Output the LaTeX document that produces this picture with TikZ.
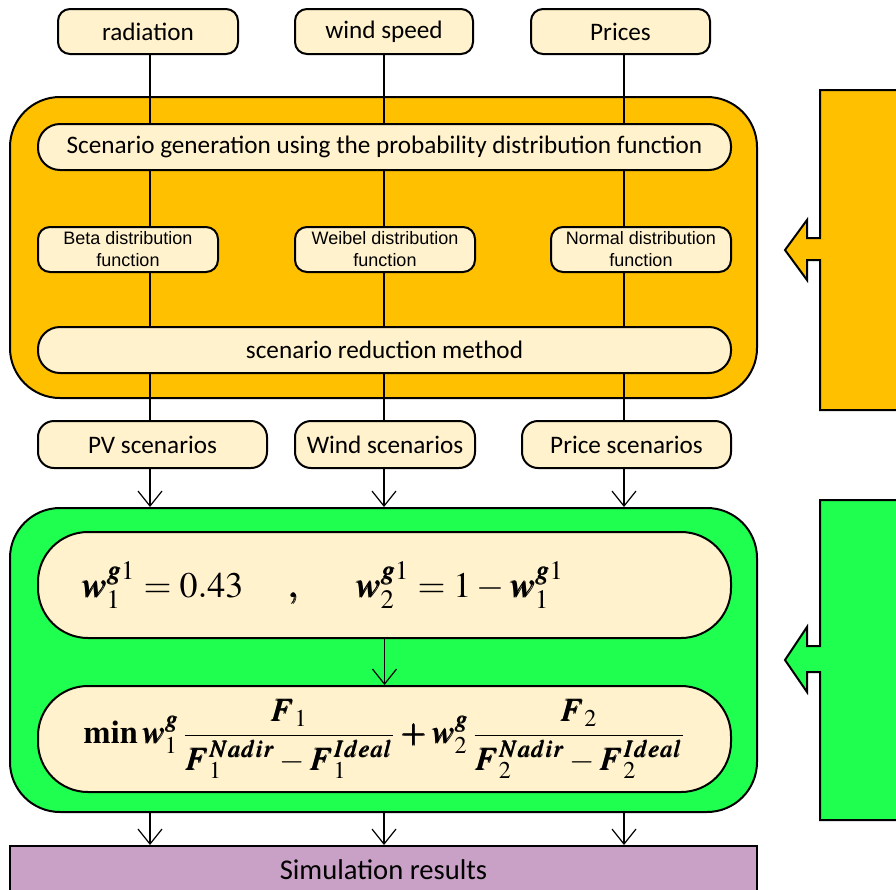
\documentclass[tikz,border=0pt]{standalone}
\usepackage{mathptmx}
\usepackage{bm}
\usepackage[no-math]{fontspec}
\setmainfont{Carlito}
\newfontfamily\arialfont{Liberation Sans}
\usetikzlibrary{arrows.meta}
\definecolor{orangefill}{HTML}{FFC000}
\definecolor{creamfill}{HTML}{FFF2CC}
\definecolor{greenfill}{HTML}{1EFF50}
\definecolor{purplefill}{HTML}{C9A0C6}
\newcommand{\bw}{\bm{w}}
\newcommand{\bF}{\bm{F}}
\begin{document}
\begin{tikzpicture}[
	x=0.5pt, y=-0.5pt,
	every node/.style={inner sep=0pt, line width=1pt, draw=black},
	bigbox/.style={shape=rectangle, rounded corners=25pt},
	inbox/.style={shape=rectangle, rounded corners=6pt, fill=creamfill, minimum height=22.5pt, font=\fontsize{12.6}{14}\selectfont},
	barbox/.style={shape=rectangle, rounded corners=11pt, fill=creamfill, minimum width=346.5pt, minimum height=23pt, font=\fontsize{12.6}{14}\selectfont},
	distbox/.style={shape=rectangle, rounded corners=6pt, fill=creamfill, minimum width=90pt, minimum height=22.5pt, align=center, font=\arialfont\fontsize{9}{11}\selectfont},
	scenbox/.style={shape=rectangle, rounded corners=8pt, fill=creamfill, minimum height=23.5pt, font=\fontsize{12.6}{14}\selectfont},
	eqbox/.style={shape=rectangle, rounded corners=25pt, fill=creamfill, minimum width=346.5pt, minimum height=53pt, font=\fontsize{18}{21}\selectfont},
	resbox/.style={shape=rectangle, fill=purplefill, minimum width=373.5pt, minimum height=24pt, font=\fontsize{14.3}{16}\selectfont},
	link/.style={line width=0.6pt},
	flow/.style={line width=0.6pt, -{Straight Barb[length=7.5pt,width=12pt]}},
]
\useasboundingbox (0,0) rectangle (896,890);
\clip (0,0) rectangle (896,890);

% columns of the three data streams
\coordinate (colA) at (150,0);
\coordinate (colB) at (384,0);
\coordinate (colC) at (624,0);

% background blocks
\node[bigbox, fill=orangefill, minimum width=373.5pt, minimum height=150.5pt] (genbox) at (383.5,247.5) {};
\node[bigbox, fill=greenfill, minimum width=373.5pt, minimum height=152pt] (optbox) at (383.5,660) {};

% inputs
\node[inbox, minimum width=90pt] (rad) at (148,31.5) {radiation};
\node[inbox, minimum width=89pt] (wind) at (384,31.5) {wind speed};
\node[inbox, minimum width=89.5pt] (price) at (620.5,31.5) {Prices};

% scenario generation
\node[barbox] (gen) at (384.5,147) {Scenario generation using the probability distribution function};
\node[distbox] (beta) at (128,249.5) {Beta distribution\\function};
\node[distbox] (weib) at (385,249.5) {Weibel distribution\\function};
\node[distbox] (norm) at (641,249.5) {Normal distribution\\function};
\node[barbox] (red) at (384.5,350) {scenario reduction method};

% scenarios
\node[scenbox, minimum width=114.5pt] (pvs) at (152.5,444.5) {PV scenarios};
\node[scenbox, minimum width=90pt] (winds) at (385,444.5) {Wind scenarios};
\node[scenbox, minimum width=104.5pt] (prices) at (626.5,444.5) {Price scenarios};

% optimisation
\node[eqbox] (eqa) at (384.5,585) {$\bw_1^{\bm{g}1}=0.43\hspace{22pt}\bm{,}\hspace{26pt}\bw_2^{\bm{g}1}=1-\bw_1^{\bm{g}1}\hspace{62pt}$};
\node[eqbox, font=\fontsize{16.3}{19}\selectfont] (eqb) at (384.5,739) {$\mathbf{min}\,\bw_1^{\bm{g}}\,\displaystyle\frac{\bF_1}{\bF_1^{\bm{Nadir}}-\bF_1^{\bm{Ideal}}}\bm{+}\bw_2^{\bm{g}}\,\frac{\bF_2}{\bF_2^{\bm{Nadir}}-\bF_2^{\bm{Ideal}}}$};

% results
\node[resbox] (sim) at (383.5,870) {Simulation results};

% connectors
\foreach \c/\a/\b in {colA/rad/gen, colB/wind/gen, colC/price/gen,
	colA/gen/beta, colB/gen/weib, colC/gen/norm,
	colA/beta/red, colB/weib/red, colC/norm/red,
	colA/red/pvs, colB/red/winds, colC/red/prices}
	\draw[link] (\c |- \a.south) -- (\c |- \b.north);
\foreach \c/\a in {colA/pvs, colB/winds, colC/prices}
	\draw[flow] (\c |- \a.south) -- (\c |- optbox.north);
\draw[flow] (eqa.south) -- (eqb.north);
\foreach \c in {colA, colB, colC}
	\draw[flow] (\c |- optbox.south) -- (\c |- sim.north);

% side blocks
\draw[line width=1pt, fill=orangefill] (906,90) -- (820,90) -- (820,238) -- (807,238) -- (807,220) -- (785,250) -- (807,280) -- (807,260) -- (820,260) -- (820,410) -- (906,410) -- cycle;
\draw[line width=1pt, fill=greenfill] (906,500) -- (820,500) -- (820,646) -- (807,646) -- (807,627) -- (785,660) -- (807,692) -- (807,672) -- (820,672) -- (820,820) -- (906,820) -- cycle;
\end{tikzpicture}
\end{document}
